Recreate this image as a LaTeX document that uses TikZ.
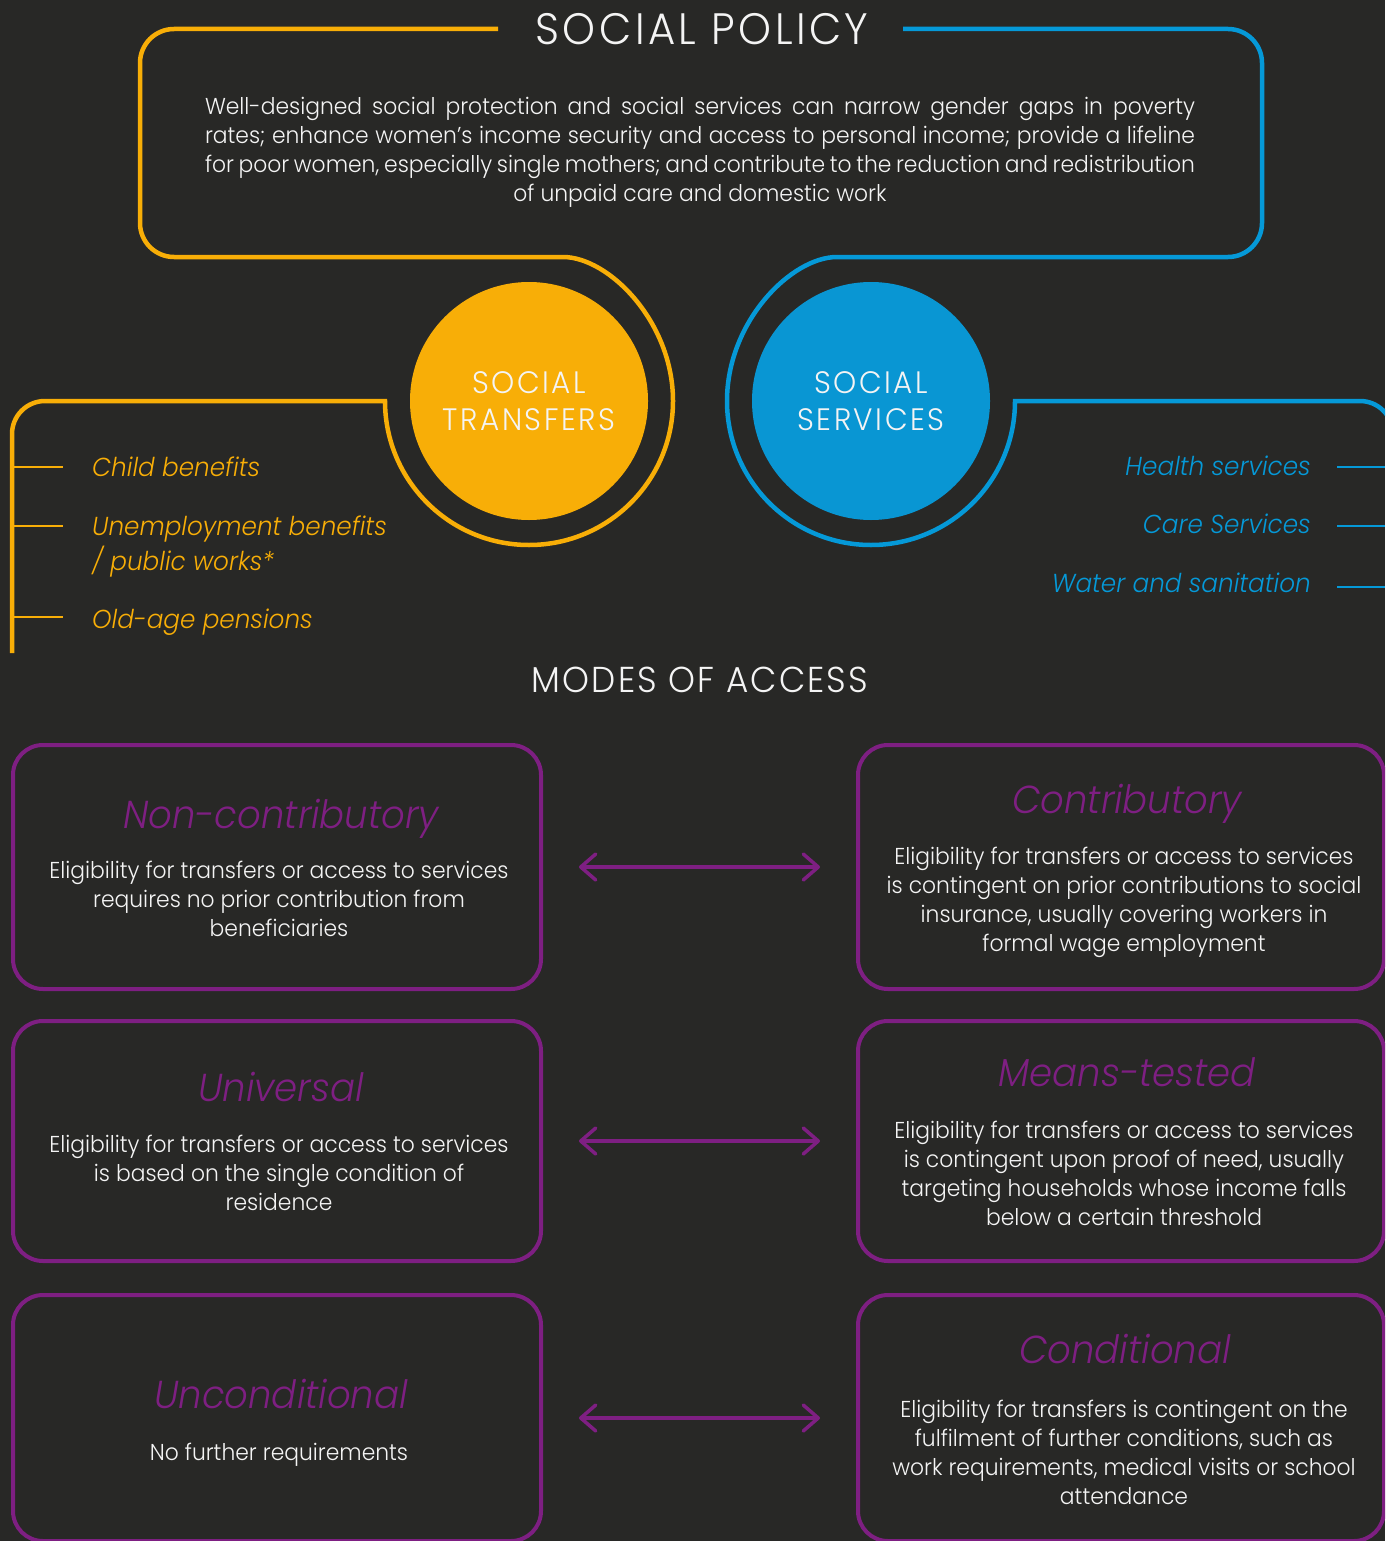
\documentclass[tikz,border=0pt]{standalone}
\usepackage{fontspec}
\IfFontExistsTF{Poppins Light}{%
  \setmainfont{Poppins Light}[FakeStretch=0.95, ItalicFont={Poppins Light Italic}]%
}{%
  \setmainfont{Poppins}[FakeStretch=0.95]%
}
\usetikzlibrary{arrows.meta}
\definecolor{cbg}{HTML}{282826}
\definecolor{cyel}{HTML}{F8AE07}
\definecolor{cblue}{HTML}{0599D8}
\definecolor{cbluefill}{HTML}{0996D3}
\definecolor{cpur}{HTML}{7E1F82}
\definecolor{cwhite}{HTML}{F4F4F4}
\newcommand\lns[2][c]{\begin{tabular}[t]{@{}#1@{}}#2\end{tabular}}
\begin{document}
\begin{tikzpicture}[x=1pt,y=-1pt,
  ybr/.style={draw=cyel, line width=4.5pt},
  bbr/.style={draw=cblue, line width=4.5pt},
  ytick/.style={draw=cyel, line width=1.6pt},
  btick/.style={draw=cblue, line width=1.6pt},
  itemy/.style={inner sep=0pt, text=cyel, font=\fontsize{26}{35}\selectfont\itshape},
  itemb/.style={inner sep=0pt, text=cblue, font=\fontsize{26}{35}\selectfont\itshape},
  bigtitle/.style={inner sep=0pt, text=cwhite, font=\fontsize{44}{50}\selectfont\addfontfeature{LetterSpace=8}},
  circ/.style={circle, inner sep=0pt, minimum size=238pt, text=cwhite, align=center,
     font=\fontsize{31}{37}\selectfont\addfontfeature{LetterSpace=8}},
  pbox/.style={draw=cpur, line width=4pt, rounded corners=30pt, rectangle, inner sep=0pt},
  btitle/.style={inner sep=0pt, text=cpur, font=\fontsize{39}{44}\selectfont\itshape},
  bbody/.style={inner sep=0pt, text=cwhite, font=\fontsize{23}{29}\selectfont},
  dbl/.style={draw=cpur, line width=3.5pt,
     {Straight Barb[length=15pt,width=26pt,round]}-{Straight Barb[length=15pt,width=26pt,round]},
     shorten <=36pt, shorten >=36pt}
]
\useasboundingbox (0,0) rectangle (1385,1541);
\clip (0,0) rectangle (1385,1541);
\fill[cbg] (0,0) rectangle (1385,1541);

% ---- top frame and rings
\draw[ybr] (498,29) [rounded corners=34pt] -- (140,29) -- (140,257) -- (529,257)
  [sharp corners] arc[start angle=90, end angle=-180, radius=144pt]
  [rounded corners=33pt] -- (12,401) -- (12,653);
\draw[bbr] (903,29) [rounded corners=34pt] -- (1262,29) -- (1262,257) -- (871,257)
  [sharp corners] arc[start angle=90, end angle=360, radius=144pt]
  [rounded corners=33pt] -- (1393,401) -- (1393,700);

\node[bigtitle, anchor=base] (title) at (702,45) {SOCIAL POLICY};
\node[inner sep=0pt, text=cwhite, anchor=base, font=\fontsize{23}{29}\selectfont] (para) at (700,115)
 {\lns{\makebox[990pt][s]{Well-designed social protection and social services can narrow gender gaps in poverty}\\
  \makebox[990pt][s]{rates; enhance women’s income security and access to personal income; provide a lifeline}\\
  \makebox[990pt][s]{for poor women, especially single mothers; and contribute to the reduction and redistribution}\\
  of unpaid care and domestic work}};

% ---- circles
\node[circ, fill=cyel] (st) at (529,401) {SOCIAL\\TRANSFERS};
\node[circ, fill=cbluefill] (ss) at (871,401) {SOCIAL\\SERVICES};

% ---- transfer items
\node[itemy, anchor=base west] (i1) at (92,476) {Child benefits};
\node[itemy, anchor=base west] (i2) at (92,535) {\lns[l]{Unemployment benefits\\/ public works*}};
\node[itemy, anchor=base west] (i3) at (92,628) {Old-age pensions};
\draw[ytick] (12,467) -- (63,467);
\draw[ytick] (12,526) -- (63,526);
\draw[ytick] (12,617) -- (63,617);

% ---- service items
\node[itemb, anchor=base east] (s1) at (1311,475) {Health services};
\node[itemb, anchor=base east] (s2) at (1311,533) {Care Services};
\node[itemb, anchor=base east] (s3) at (1311,592) {Water and sanitation};
\draw[btick] (1337,467) -- (1385,467);
\draw[btick] (1337,526) -- (1385,526);
\draw[btick] (1337,587) -- (1385,587);

% ---- modes of access
\node[bigtitle, anchor=base, font=\fontsize{36}{46}\selectfont\addfontfeature{LetterSpace=6}] (modes) at (700,692) {MODES OF ACCESS};

\node[pbox, minimum width=528pt, minimum height=244pt] (b1l) at (277,867) {};
\node[pbox, minimum width=526pt, minimum height=244pt] (b1r) at (1121,867) {};
\node[pbox, minimum width=528pt, minimum height=240pt] (b2l) at (277,1141) {};
\node[pbox, minimum width=526pt, minimum height=240pt] (b2r) at (1121,1141) {};
\node[pbox, minimum width=528pt, minimum height=246pt] (b3l) at (277,1418) {};
\node[pbox, minimum width=526pt, minimum height=246pt] (b3r) at (1121,1418) {};

\draw[dbl] (b1l) -- (b1r);
\draw[dbl] (b2l) -- (b2r);
\draw[dbl] (b3l) -- (b3r);

\node[btitle, anchor=base] (t1l) at (281,828) {Non-contributory};
\node[bbody, anchor=base] (d1l) at (279,878) {\lns{Eligibility for transfers or access to services\\requires no prior contribution from\\beneficiaries}};
\node[btitle, anchor=base] (t1r) at (1127,813) {Contributory};
\node[bbody, anchor=base] (d1r) at (1124,864) {\lns{Eligibility for transfers or access to services\\is contingent on prior contributions to social\\insurance, usually covering workers in\\formal wage employment}};

\node[btitle, anchor=base] (t2l) at (281,1101) {Universal};
\node[bbody, anchor=base] (d2l) at (279,1152) {\lns{Eligibility for transfers or access to services\\is based on the single condition of\\residence}};
\node[btitle, anchor=base] (t2r) at (1127,1086) {Means-tested};
\node[bbody, anchor=base] (d2r) at (1124,1138) {\lns{Eligibility for transfers or access to services\\is contingent upon proof of need, usually\\targeting households whose income falls\\below a certain threshold}};

\node[btitle, anchor=base] (t3l) at (281,1408) {Unconditional};
\node[bbody, anchor=base] (d3l) at (279,1460) {No further requirements};
\node[btitle, anchor=base] (t3r) at (1125,1363) {Conditional};
\node[bbody, anchor=base] (d3r) at (1124,1417) {\lns{Eligibility for transfers is contingent on the\\fulfilment of further conditions, such as\\work requirements, medical visits or school\\attendance}};
\end{tikzpicture}
\end{document}
